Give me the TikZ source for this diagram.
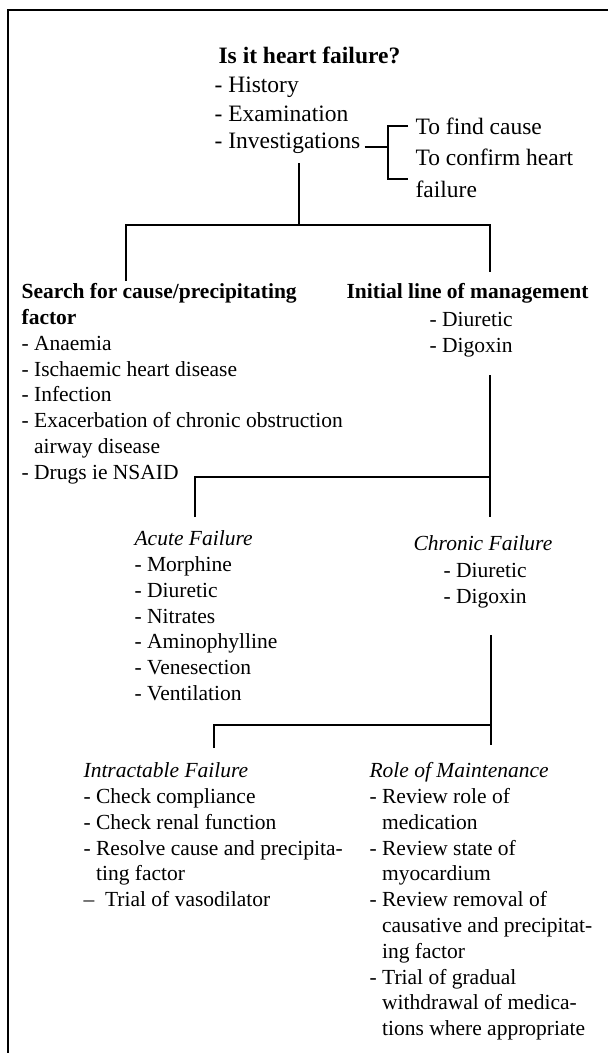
\documentclass[tikz,border=0pt]{standalone}
\usepackage{fontspec}
\setmainfont{Liberation Serif}
\newcommand\flowfont{\fontsize{21.5}{25.8}\selectfont}
\newcommand\headfont{\fontsize{23.5}{28.5}\selectfont}

\begin{document}
\begin{tikzpicture}[x=1pt,y=-1pt,line width=1.2pt,
    txt/.style={anchor=north west,inner sep=0pt,align=left,font=\flowfont},
    toptxt/.style={txt,font=\headfont}]
    \useasboundingbox (0,0) rectangle (608,1053);
    % Frame
    \draw (8,1053) -- (8,10) -- (608,10);
    % Question
    \node[toptxt] (q) at (218,43) {\strut\textbf{Is it heart failure?}};
    \node[toptxt] (hx) at (214,72) {\strut- History\\- Examination};
    \node[toptxt] (inv) at (214,128) {\strut- Investigations};
    % Bracket for investigations
    \node[toptxt] (find) at (415,114) {\strut To find cause};
    \node[toptxt] (conf) at (415,145) {\strut To confirm heart\\[3.5pt]failure};
    \coordinate (brk) at (388,147);
    \coordinate (bt) at (408,126);
    \coordinate (bb) at (408,179);
    \draw ([xshift=4pt]inv.east |- brk) -- (brk);
    \draw (bt) -| (brk) |- (bb);
    % First split
    \coordinate (t1) at (299,163);
    \coordinate (h1) at (299,225);
    \coordinate (l1) at (126,281);
    \coordinate (r1) at (490,272);
    \draw (t1) -- (h1);
    \draw (l1) |- (h1) -| (r1);
    % Cause / precipitating factor
    \node[txt] (srch) at (21,280) {\strut\textbf{Search for cause/precipitating}\\
      \textbf{factor}\\
      - Anaemia\\
      - Ischaemic heart disease\\
      - Infection\\
      - Exacerbation of chronic obstruction\\
      \phantom{- }airway disease\\
      - Drugs ie NSAID};
    % Initial line of management
    \node[txt] (init) at (346,280) {\strut\textbf{Initial line of management}};
    \node[txt] (initd) at (429,308) {\strut- Diuretic\\- Digoxin};
    % Second split
    \coordinate (t2) at (490,375);
    \coordinate (m2) at (490,477);
    \coordinate (r2) at (490,517);
    \coordinate (l2) at (195,517);
    \draw (t2) -- (r2);
    \draw (l2) |- (m2);
    % Acute failure
    \node[txt] (acute) at (134,527) {\strut\textit{Acute Failure}\\
      - Morphine\\
      - Diuretic\\
      - Nitrates\\
      - Aminophylline\\
      - Venesection\\
      - Ventilation};
    % Chronic failure
    \node[txt] (chron) at (413,532) {\strut\textit{Chronic Failure}};
    \node[txt] (chrond) at (443,559) {\strut- Diuretic\\- Digoxin};
    % Third split
    \coordinate (t3) at (491,635);
    \coordinate (m3) at (491,725);
    \coordinate (r3) at (491,745);
    \coordinate (l3) at (214,748);
    \draw (t3) -- (r3);
    \draw (l3) |- (m3);
    % Intractable failure
    \node[txt] (intr) at (83,759) {\strut\textit{Intractable Failure}\\
      - Check compliance\\
      - Check renal function\\
      - Resolve cause and precipita-\\
      \phantom{- }ting factor\\
      --\ \ Trial of vasodilator};
    % Role of maintenance
    \node[txt] (role) at (369,759) {\strut\textit{Role of Maintenance}\\
      - Review role of\\
      \phantom{- }medication\\
      - Review state of\\
      \phantom{- }myocardium\\
      - Review removal of\\
      \phantom{- }causative and precipitat-\\
      \phantom{- }ing factor\\
      - Trial of gradual\\
      \phantom{- }withdrawal of medica-\\
      \phantom{- }tions where appropriate};
\end{tikzpicture}
\end{document}
